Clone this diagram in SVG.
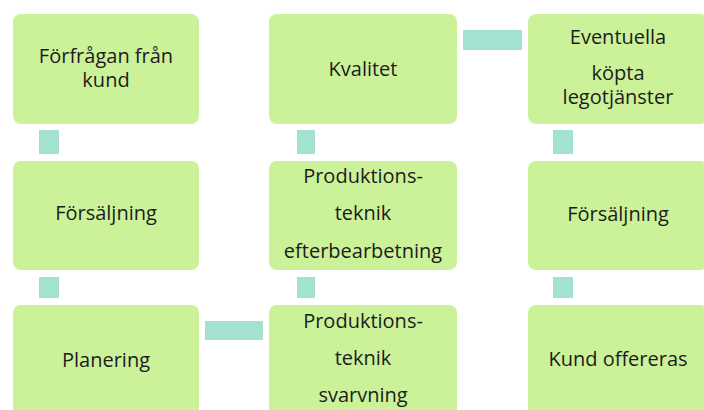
<svg xmlns="http://www.w3.org/2000/svg" width="704" height="410" viewBox="0 0 704 410">
<style>
.box{fill:#cbf298;}
.con{fill:#a3e2d0;}
text{font-family:"Open Sans","Noto Sans",sans-serif;font-size:20px;fill:#1c1c1c;text-anchor:middle;}
</style>
<rect width="704" height="410" fill="#ffffff"/>
<g id="connectors">
<rect class="con" x="39" y="130" width="20" height="24"/>
<rect class="con" x="297" y="130" width="18" height="24"/>
<rect class="con" x="553" y="130" width="20" height="24"/>
<rect class="con" x="463" y="30" width="59" height="20"/>
<rect class="con" x="39" y="277" width="20" height="21"/>
<rect class="con" x="297" y="277" width="18" height="21"/>
<rect class="con" x="553" y="277" width="20" height="21"/>
<rect class="con" x="205" y="321" width="58" height="19"/>
</g>
<g id="n1"><rect class="box" x="13" y="14" width="186" height="110" rx="8"/>
<text x="106" y="63">Förfrågan från</text><text x="106" y="87">kund</text></g>
<g id="n2"><rect class="box" x="269" y="14" width="188" height="110" rx="8"/>
<text x="363" y="76">Kvalitet</text></g>
<g id="n3"><rect class="box" x="528" y="14" width="180" height="110" rx="8"/>
<text x="618" y="44">Eventuella</text><text x="618" y="80">köpta</text><text x="618" y="104">legotjänster</text></g>
<g id="n4"><rect class="box" x="13" y="161" width="186" height="109" rx="8"/>
<text x="106" y="220">Försäljning</text></g>
<g id="n5"><rect class="box" x="269" y="161" width="188" height="109" rx="8"/>
<text x="363" y="183">Produktions-</text><text x="363" y="220">teknik</text><text x="363" y="258">efterbearbetning</text></g>
<g id="n6"><rect class="box" x="528" y="161" width="180" height="109" rx="8"/>
<text x="618" y="221">Försäljning</text></g>
<g id="n7"><rect class="box" x="13" y="305" width="186" height="115" rx="8"/>
<text x="106" y="367">Planering</text></g>
<g id="n8"><rect class="box" x="269" y="305" width="188" height="115" rx="8"/>
<text x="363" y="328">Produktions-</text><text x="363" y="365">teknik</text><text x="363" y="402">svarvning</text></g>
<g id="n9"><rect class="box" x="528" y="305" width="180" height="115" rx="8"/>
<text x="618" y="366">Kund offereras</text></g>
</svg>
